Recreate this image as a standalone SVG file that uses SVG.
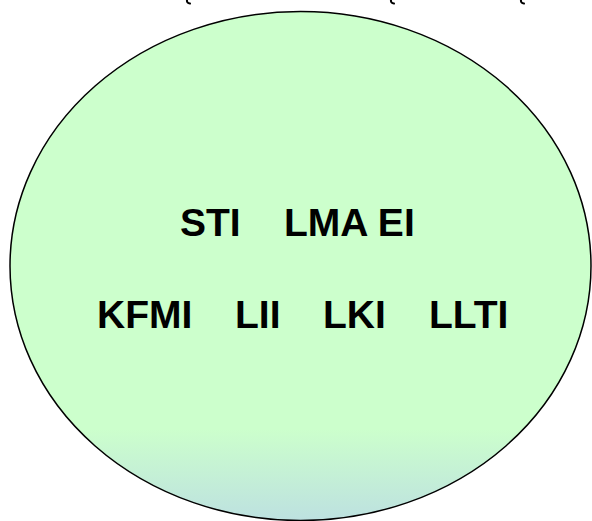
<svg xmlns="http://www.w3.org/2000/svg" width="592" height="521" viewBox="0 0 592 521">
  <defs>
    <linearGradient id="fill" x1="0" y1="0" x2="0" y2="1">
      <stop offset="0" stop-color="#CCFFCC"/>
      <stop offset="0.82" stop-color="#CCFFCC"/>
      <stop offset="1" stop-color="#BDE1E0"/>
    </linearGradient>
  </defs>
  <style>
    .lbl { font-family: "Liberation Sans", Arial, sans-serif; font-weight: bold; font-size: 39px; fill: #000000; }
    .mark { fill: none; stroke: #000000; stroke-width: 2; stroke-linecap: round; }
  </style>
  <rect width="592" height="521" fill="#FFFFFF"/>
  <g id="top-marks">
    <path class="mark" d="M187,0 Q186.5,3 190,3.5"/>
    <path class="mark" d="M391,0 Q390.5,3 394,3.5"/>
    <path class="mark" d="M521,0 Q520.5,3 524,3.5"/>
  </g>
  <g id="circle">
    <ellipse cx="300.5" cy="266" rx="290.5" ry="254.5" fill="url(#fill)" stroke="#000000" stroke-width="1.5"/>
  </g>
  <g id="labels">
    <text class="lbl" x="180" y="236">STI</text>
    <text class="lbl" x="284" y="236">LMA EI</text>
    <text class="lbl" x="97" y="328">KFMI</text>
    <text class="lbl" x="235" y="328">LII</text>
    <text class="lbl" x="323" y="328">LKI</text>
    <text class="lbl" x="429" y="328">LLTI</text>
  </g>
  <g id="connectors"></g>
</svg>
